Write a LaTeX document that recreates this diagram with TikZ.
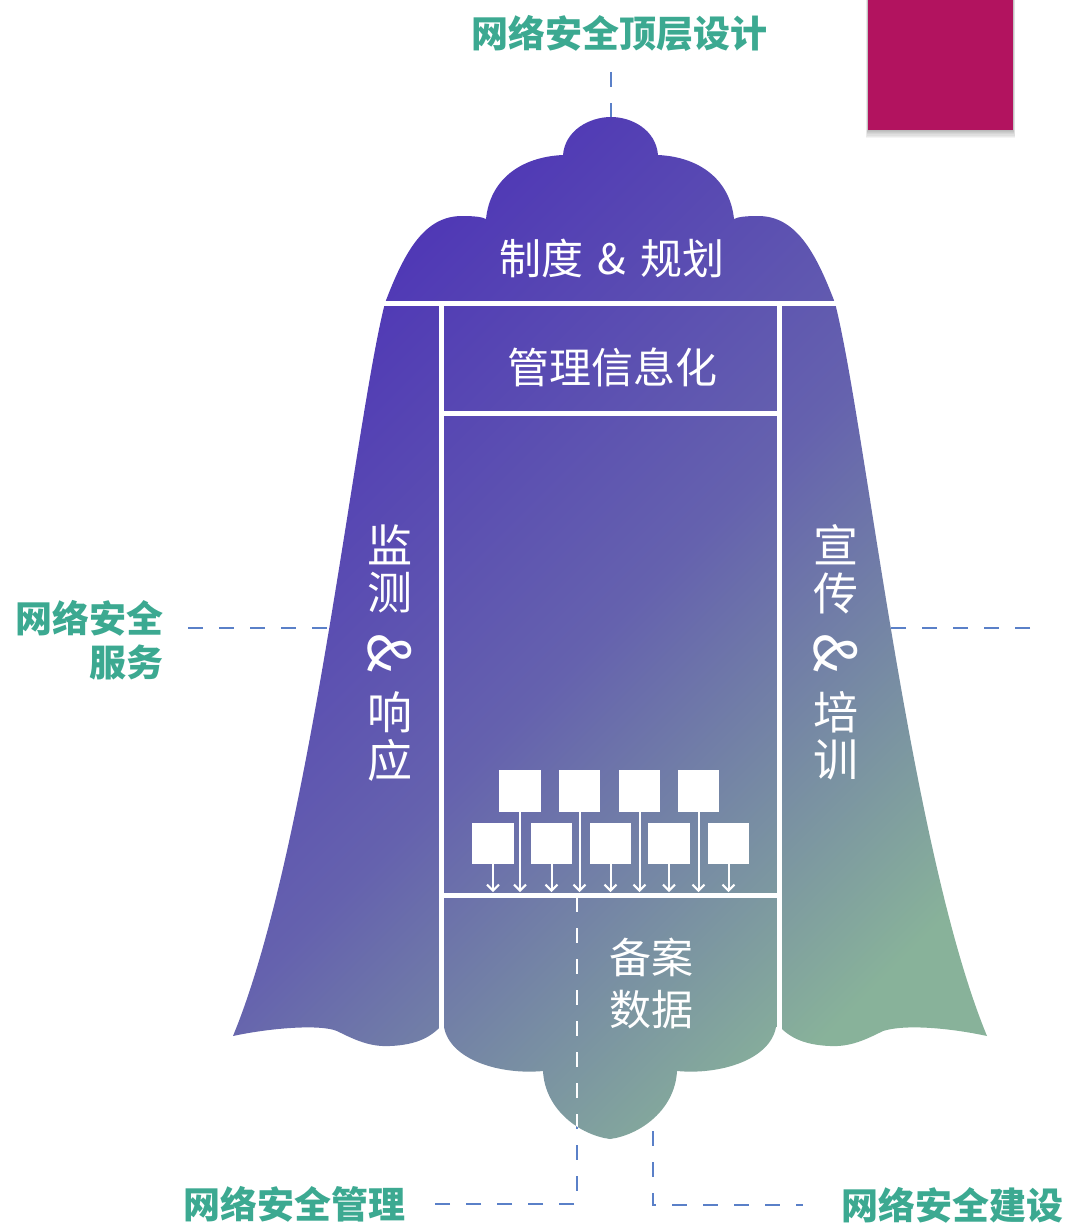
\documentclass[tikz,border=0pt]{standalone}
\usepackage{fontspec}
\newfontfamily\cjk{Noto Sans CJK SC}
\usetikzlibrary{arrows.meta}
\definecolor{bellTop}{HTML}{4E35B6}
\definecolor{bellMid}{HTML}{6562AE}
\definecolor{bellBot}{HTML}{88B29A}
\definecolor{guideBlue}{HTML}{5A80C8}
\definecolor{capTeal}{HTML}{3CA991}
\definecolor{tabPink}{HTML}{B2135F}

% outline of the bell: cloud crown, two flared wings, lobed base
\def\bellpath{(385,303)
  .. controls (405,250) and (425,216) .. (462,216)
  .. controls (475,216) and (482,217) .. (486,219)
  .. controls (490,180) and (520,157) .. (563,155)
  .. controls (565,130) and (590,117) .. (611,117)
  .. controls (632,117) and (656,130) .. (658,155)
  .. controls (700,157) and (730,180) .. (734,219)
  .. controls (738,217) and (745,216) .. (758,216)
  .. controls (795,216) and (815,250) .. (835,303)
  .. controls (865,420) and (910,850) .. (987,1036)
  .. controls (950,1028) and (905,1024) .. (883,1031)
  .. controls (865,1040) and (850,1047) .. (830,1046)
  .. controls (805,1045) and (790,1038) .. (779,1026)
  -- (776,1027)
  .. controls (770,1060) and (720,1075) .. (677,1071)
  .. controls (675,1110) and (640,1135) .. (610,1139)
  .. controls (580,1135) and (545,1110) .. (543,1071)
  .. controls (500,1075) and (450,1060) .. (444,1027)
  -- (441,1026)
  .. controls (430,1038) and (415,1045) .. (390,1046)
  .. controls (370,1047) and (355,1040) .. (337,1031)
  .. controls (320,1024) and (270,1028) .. (233,1036)
  .. controls (310,850) and (355,420) .. (385,303) -- cycle}

\begin{document}
\begin{tikzpicture}[x=1pt,y=-1pt,
  guideline/.style={guideBlue, line width=2.6pt, dash pattern=on 15pt off 16pt},
  divider/.style={white, line width=5pt},
  captext/.style={text=capTeal, font=\cjk\bfseries\fontsize{37}{44}\selectfont, inner sep=0pt},
  inlabel/.style={text=white, font=\cjk\fontsize{42}{52}\selectfont, inner sep=0pt},
  vlabel/.style={text=white, font=\cjk\fontsize{45}{48}\selectfont, inner sep=0pt},
  vamp/.style={text=white, font=\cjk\fontsize{58}{60}\selectfont, inner sep=0pt, rotate=-90},
  unitbox/.style={fill=white, minimum size=41.5pt, inner sep=0pt},
  feed/.style={white, line width=2pt, -{Straight Barb[length=6pt,width=12pt]}},
]
\useasboundingbox (0,0) rectangle (1068,1223);

% corner tab with a soft shadow
\foreach \k in {1,...,7}
  \fill[black, opacity=0.045] (868-\k*0.3,0) rectangle (1013+\k*0.3,130+\k*1.1);
\node[fill=tabPink, minimum width=145pt, minimum height=130pt, inner sep=0pt] (tab) at (940.5,65) {};

% guide lines towards the captions
\coordinate (crownTip) at (611,117);
\coordinate (topGuide) at (611,72);
\coordinate (leftGuideA) at (188,628);
\coordinate (leftGuideB) at (330,628);
\coordinate (rightGuideA) at (890,628);
\coordinate (rightGuideB) at (1030,628);
\coordinate (mgmtStart) at (577,897);
\coordinate (mgmtCorner) at (577,1204);
\coordinate (mgmtEnd) at (428,1204);
\coordinate (buildStart) at (653,1100);
\coordinate (buildCorner) at (653,1205);
\coordinate (buildEnd) at (803,1205);
\draw[guideline] (topGuide) -- (crownTip);
\draw[guideline] (leftGuideA) -- (leftGuideB);
\draw[guideline] (rightGuideB) -- (rightGuideA);
\draw[guideline] (mgmtStart) -- (mgmtCorner) -- (mgmtEnd);
\draw[guideline] (buildStart) -- (buildCorner) -- (buildEnd);

% bell body
\shade[top color=bellTop, bottom color=bellBot, middle color=bellMid, shading angle=45] \bellpath;

% white dividers between the sections
\draw[divider] (370,303) -- (850,303);
\draw[divider] (441.5,303) -- (441.5,1050);
\draw[divider] (779.5,303) -- (779.5,1050);
\draw[divider] (441.5,413) -- (779.5,413);
\draw[divider] (441.5,895) -- (779.5,895);

% the management guide shows white where it crosses the body
\begin{scope}
  \clip \bellpath;
  \draw[guideline, white] (mgmtStart) -- (mgmtCorner) -- (mgmtEnd);
\end{scope}

% filing units feeding the data store
\coordinate (rail) at (0,892);
\foreach \x [count=\i] in {520,579.5,639.5,698.5} {
  \node[unitbox] (up\i) at (\x,791) {};
}
\foreach \x [count=\i] in {493,551.5,610.5,669,728.5} {
  \node[unitbox] (lo\i) at (\x,843.5) {};
  \draw[feed] (lo\i.south) -- (lo\i.south |- rail);
}
\foreach \i in {1,...,4} {
  \draw[feed] (up\i.south) -- (up\i.south |- rail);
}

% section labels
\node[inlabel] (policy) at (612,258) {制度\hspace{14pt}\&\hspace{14pt}规划};
\node[inlabel] (mgmtinfo) at (612,367) {管理信息化};
\node[inlabel, align=left] (records) at (651,983) {备案\\数据};

\node[vlabel] (monA) at (390,545) {监};
\node[vlabel] (monB) at (390,593) {测};
\node[vamp] (monC) at (390,653) {\&};
\node[vlabel] (monD) at (390,712) {响};
\node[vlabel] (monE) at (390,760) {应};

\node[vlabel] (eduA) at (836,545) {宣};
\node[vlabel] (eduB) at (836,593) {传};
\node[vamp] (eduC) at (836,653) {\&};
\node[vlabel] (eduD) at (836,712) {培};
\node[vlabel] (eduE) at (836,760) {训};

% captions
\node[captext] (capTop) at (619,33) {网络安全顶层设计};
\node[captext, align=right, anchor=east] (capLeft) at (164,640) {网络安全\\服务};
\node[captext] (capMgmt) at (294,1204) {网络安全管理};
\node[captext] (capBuild) at (952,1205) {网络安全建设};
\end{tikzpicture}
\end{document}
